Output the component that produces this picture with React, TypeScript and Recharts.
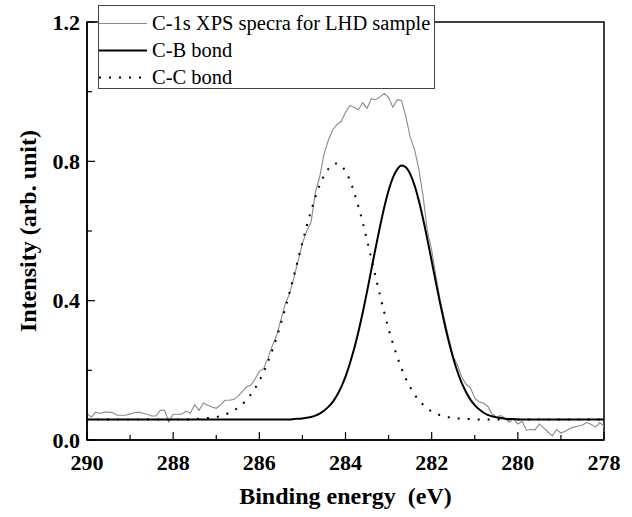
import { LineChart, Line, XAxis, YAxis, Legend, ReferenceArea } from "recharts";

// binding energy grid (eV), read left to right as drawn (290 -> 278)
const energy = [
  290.0, 289.9, 289.8, 289.7, 289.6, 289.5, 289.4, 289.3, 289.2, 289.1,
  289.0, 288.9, 288.8, 288.7, 288.6, 288.5, 288.4, 288.3, 288.2, 288.1,
  288.0, 287.9, 287.8, 287.7, 287.6, 287.5, 287.4, 287.3, 287.2, 287.1,
  287.0, 286.9, 286.8, 286.7, 286.6, 286.5, 286.4, 286.3, 286.2, 286.1,
  286.0, 285.9, 285.8, 285.7, 285.6, 285.5, 285.4, 285.3, 285.2, 285.1,
  285.0, 284.9, 284.8, 284.7, 284.6, 284.5, 284.4, 284.3, 284.2, 284.1,
  284.0, 283.9, 283.8, 283.7, 283.6, 283.5, 283.4, 283.3, 283.2, 283.1,
  283.0, 282.9, 282.8, 282.7, 282.6, 282.5, 282.4, 282.3, 282.2, 282.1,
  282.0, 281.9, 281.8, 281.7, 281.6, 281.5, 281.4, 281.3, 281.2, 281.1,
  281.0, 280.9, 280.8, 280.7, 280.6, 280.5, 280.4, 280.3, 280.2, 280.1,
  280.0, 279.9, 279.8, 279.7, 279.6, 279.5, 279.4, 279.3, 279.2, 279.1,
  279.0, 278.9, 278.8, 278.7, 278.6, 278.5, 278.4, 278.3, 278.2, 278.1,
  278.0,
];

// measured C-1s spectrum (grey, noisy)
const rawSpectrum = [
  0.075, 0.066, 0.080, 0.076, 0.080, 0.080, 0.078, 0.071, 0.071, 0.071,
  0.075, 0.078, 0.080, 0.077, 0.074, 0.069, 0.069, 0.085, 0.086, 0.052,
  0.074, 0.074, 0.074, 0.083, 0.077, 0.102, 0.085, 0.106, 0.100, 0.095,
  0.091, 0.100, 0.114, 0.114, 0.116, 0.125, 0.138, 0.152, 0.157, 0.175,
  0.197, 0.205, 0.235, 0.270, 0.300, 0.345, 0.390, 0.420, 0.465, 0.515,
  0.565, 0.600, 0.625, 0.710, 0.755, 0.820, 0.860, 0.890, 0.905, 0.915,
  0.940, 0.960, 0.955, 0.948, 0.968, 0.952, 0.980, 0.977, 0.985, 0.995,
  0.984, 0.955, 0.977, 0.975, 0.930, 0.870, 0.835, 0.780, 0.700, 0.600,
  0.545, 0.470, 0.400, 0.345, 0.290, 0.240, 0.215, 0.180, 0.160, 0.150,
  0.120, 0.110, 0.106, 0.097, 0.075, 0.066, 0.070, 0.063, 0.051, 0.060,
  0.046, 0.054, 0.028, 0.030, 0.029, 0.046, 0.035, 0.023, 0.012, 0.030,
  0.020, 0.025, 0.033, 0.037, 0.040, 0.043, 0.050, 0.045, 0.037, 0.050,
  0.040,
];

// fitted C-B component (solid)
const cbBond = [
  0.059, 0.059, 0.059, 0.059, 0.059, 0.059, 0.059, 0.059, 0.059, 0.059,
  0.059, 0.059, 0.059, 0.059, 0.059, 0.059, 0.059, 0.059, 0.059, 0.059,
  0.059, 0.059, 0.059, 0.059, 0.059, 0.059, 0.059, 0.059, 0.059, 0.059,
  0.059, 0.059, 0.059, 0.059, 0.059, 0.059, 0.059, 0.059, 0.059, 0.059,
  0.059, 0.059, 0.059, 0.059, 0.059, 0.059, 0.059, 0.059, 0.060, 0.061,
  0.062, 0.064, 0.066, 0.070, 0.076, 0.084, 0.095, 0.109, 0.128, 0.152,
  0.182, 0.219, 0.262, 0.311, 0.366, 0.426, 0.489, 0.552, 0.612, 0.668,
  0.716, 0.753, 0.777, 0.788, 0.783, 0.764, 0.732, 0.688, 0.635, 0.576,
  0.514, 0.451, 0.390, 0.333, 0.281, 0.235, 0.196, 0.163, 0.137, 0.116,
  0.100, 0.088, 0.079, 0.072, 0.068, 0.065, 0.063, 0.061, 0.060, 0.060,
  0.059, 0.059, 0.059, 0.059, 0.059, 0.059, 0.059, 0.059, 0.059, 0.059,
  0.059, 0.059, 0.059, 0.059, 0.059, 0.059, 0.059, 0.059, 0.059, 0.059,
  0.059,
];

// fitted C-C component (dotted)
const ccBond = [
  0.059, 0.059, 0.059, 0.059, 0.059, 0.059, 0.059, 0.059, 0.059, 0.059,
  0.059, 0.059, 0.059, 0.059, 0.059, 0.059, 0.059, 0.059, 0.059, 0.059,
  0.059, 0.059, 0.059, 0.059, 0.059, 0.060, 0.061, 0.062, 0.063, 0.064,
  0.066, 0.069, 0.073, 0.078, 0.084, 0.092, 0.102, 0.115, 0.130, 0.148,
  0.170, 0.195, 0.224, 0.257, 0.294, 0.334, 0.377, 0.423, 0.471, 0.519,
  0.567, 0.614, 0.657, 0.697, 0.731, 0.758, 0.778, 0.791, 0.794, 0.788,
  0.771, 0.746, 0.711, 0.670, 0.624, 0.573, 0.521, 0.468, 0.416, 0.366,
  0.319, 0.277, 0.239, 0.205, 0.176, 0.152, 0.131, 0.114, 0.101, 0.090,
  0.082, 0.076, 0.071, 0.067, 0.065, 0.063, 0.062, 0.061, 0.060, 0.060,
  0.059, 0.059, 0.059, 0.059, 0.059, 0.059, 0.059, 0.059, 0.059, 0.059,
  0.059, 0.059, 0.059, 0.059, 0.059, 0.059, 0.059, 0.059, 0.059, 0.059,
  0.059, 0.059, 0.059, 0.059, 0.059, 0.059, 0.059, 0.059, 0.059, 0.059,
  0.059,
];

const xTicks = [278, 279, 280, 281, 282, 283, 284, 285, 286, 287, 288, 289, 290];
const yTicks = [0, 0.2, 0.4, 0.6, 0.8, 1.0, 1.2];
const seriesNames = ["C-1s XPS specra for LHD sample", "C-B bond", "C-C bond"];

const FONT = "Liberation Serif, Tinos, Nimbus Roman, Times New Roman, Times, DejaVu Serif, serif";

const lineStyles = [
  { key: "raw", stroke: "#8a8a8a", width: 1.1, dash: undefined, type: "linear" as const },
  { key: "cb", stroke: "#000", width: 2, dash: undefined, type: "monotone" as const },
  { key: "cc", stroke: "#000", width: 2, dash: "2 8", type: "monotone" as const },
];

const data = energy.map((e, i) => ({ e, raw: rawSpectrum[i], cb: cbBond[i], cc: ccBond[i] }));

const tickStyle = { fontFamily: FONT, fontWeight: "bold" as const, fontSize: 22 };
const titleStyle = { fontFamily: FONT, fontWeight: "bold" as const, fontSize: 24 };

const XTick = (props: any) => {
  const { x, y, payload } = props;
  const v = payload.value;
  const major = v % 2 === 0;
  return (
    <g>
      <line x1={x} x2={x} y1={y} y2={y - (major ? 8 : 5)} stroke="#000" strokeWidth={1.2} />
      {major && (
        <text x={x} y={y + 30} textAnchor="middle" style={tickStyle} fill="#000">
          {v}
        </text>
      )}
    </g>
  );
};

const YTick = (props: any) => {
  const { x, y, payload } = props;
  const v = payload.value;
  const major = Math.round(v * 10) % 4 === 0;
  return (
    <g>
      <line x1={x} x2={x + (major ? 8 : 5)} y1={y} y2={y} stroke="#000" strokeWidth={1.2} />
      {major && (
        <text x={x - 7} y={y + 7.5} textAnchor="end" style={tickStyle} fill="#000">
          {v.toFixed(1)}
        </text>
      )}
    </g>
  );
};

const XTitle = (props: any) => {
  const vb = props.viewBox || { x: 87, y: 440, width: 517 };
  return (
    <text x={vb.x + vb.width / 2} y={vb.y + 64} textAnchor="middle" style={titleStyle} fill="#000">
      {"Binding energy\u00A0 (eV)"}
    </text>
  );
};

const YTitle = (props: any) => {
  const vb = props.viewBox || { y: 22, height: 418 };
  const cy = vb.y + vb.height / 2;
  return (
    <text x={36} y={cy} transform={`rotate(-90 36 ${cy})`} textAnchor="middle" style={titleStyle} fill="#000">
      Intensity (arb. unit)
    </text>
  );
};

const LegendBox = () => (
  <div style={{ paddingTop: 3.5, fontFamily: FONT, fontSize: 20.5, color: "#000" }}>
    {seriesNames.map((name, i) => {
      const s = lineStyles[i];
      return (
        <div key={name} style={{ display: "flex", alignItems: "center", height: 27, whiteSpace: "nowrap" }}>
          <svg width={48} height={27} style={{ flex: "none" }}>
            <line x1={0} x2={48} y1={13.5} y2={13.5} stroke={s.stroke} strokeWidth={s.width} strokeDasharray={s.dash} />
          </svg>
          <span style={{ marginLeft: 5, lineHeight: "27px" }}>{name}</span>
        </div>
      );
    })}
  </div>
);

export default function App() {
  return (
    <div style={{ position: "absolute", left: 0, top: 0, width: 632, height: 517, background: "#fff", fontFamily: FONT }}>
      <LineChart width={632} height={517} data={data} margin={{ top: 22, right: 28, bottom: 0, left: 0 }}>
        <XAxis
          dataKey="e"
          type="number"
          domain={[278, 290]}
          reversed
          allowDataOverflow
          ticks={xTicks}
          interval={0}
          tick={<XTick />}
          tickLine={false}
          tickSize={0}
          tickMargin={0}
          axisLine={{ stroke: "#000", strokeWidth: 1.5 }}
          height={77}
          label={<XTitle />}
        />
        <YAxis
          type="number"
          domain={[0, 1.2]}
          allowDataOverflow
          ticks={yTicks}
          interval={0}
          tick={<YTick />}
          tickLine={false}
          tickSize={0}
          tickMargin={0}
          axisLine={{ stroke: "#000", strokeWidth: 1.5 }}
          width={87}
          label={<YTitle />}
        />
        <ReferenceArea x1={278} x2={290} y1={0} y2={1.2} fill="none" stroke="#000" strokeWidth={1.5} ifOverflow="visible" />
        {lineStyles.map((s) => (
          <Line
            key={s.key}
            dataKey={s.key}
            type={s.type}
            stroke={s.stroke}
            strokeWidth={s.width}
            strokeDasharray={s.dash}
            dot={false}
            activeDot={false}
            isAnimationActive={false}
          />
        ))}
        <Legend
          layout="vertical"
          align="center"
          verticalAlign="middle"
          content={<LegendBox />}
          wrapperStyle={{
            left: 98,
            top: 5,
            width: 337,
            height: 84,
            border: "1.5px solid #444",
            background: "#fff",
            boxSizing: "border-box",
          }}
        />
      </LineChart>
    </div>
  );
}
